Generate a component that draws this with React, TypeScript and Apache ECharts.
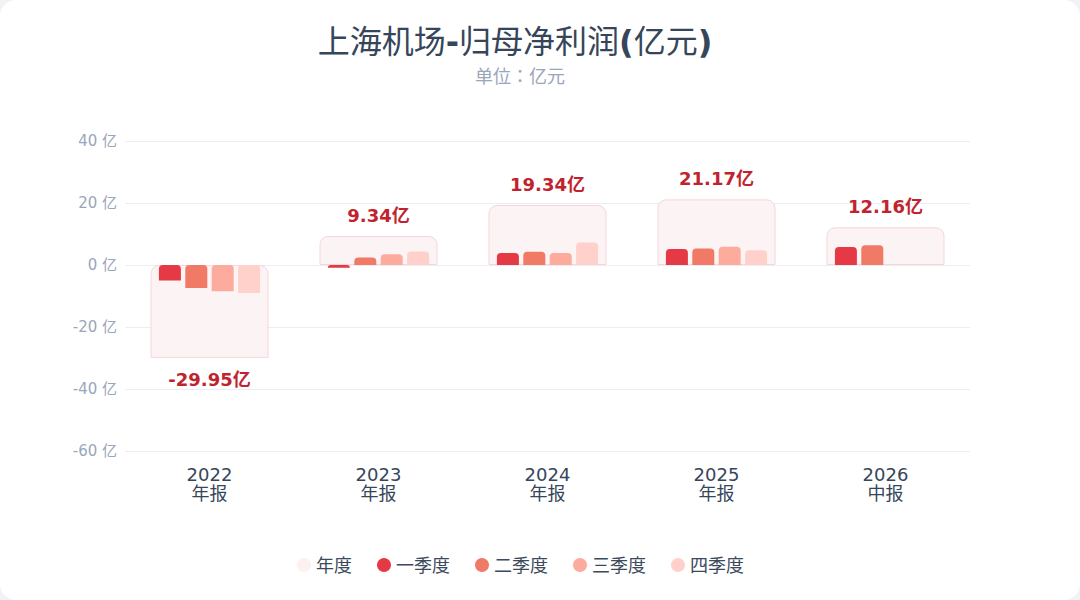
import React, { useEffect, useRef } from "react";
import * as echarts from "echarts";

const categories = ["2022\n年报", "2023\n年报", "2024\n年报", "2025\n年报", "2026\n中报"];
const annual = [-29.95, 9.34, 19.34, 21.17, 12.16];
const q1 = [-5.0, -0.9, 3.9, 5.2, 5.8];
const q2 = [-7.4, 2.4, 4.3, 5.3, 6.36];
const q3 = [-8.5, 3.5, 3.9, 5.9, null];
const q4 = [-9.05, 4.34, 7.24, 4.77, null];
const yTicks = [-60, -40, -20, 0, 20, 40];

const FONT = "'DejaVu Sans', 'Noto Sans CJK JP', sans-serif";

const COLORS = {
  annualFill: "#fcf3f4",
  annualBorder: "#f6d6db",
  q1: "#e63946",
  q2: "#f07a66",
  q3: "#fdab9c",
  q4: "#ffd1ca",
  label: "#c1232e",
};

export default function App() {
  const ref = useRef<HTMLDivElement>(null);
  useEffect(() => {
    if (!ref.current) return;
    const chart = echarts.init(ref.current, undefined, { renderer: "svg" });
    const quarter = (name: string, data: (number | null)[], color: string) => ({
      name,
      type: "bar",
      xAxisIndex: 1,
      data,
      barWidth: 22,
      barGap: "20%",
      itemStyle: { color, borderRadius: [4, 4, 0, 0] },
      z: 3,
    });
    const titleColor = "#36465a";
    chart.setOption({
      animation: false,
      textStyle: { fontFamily: FONT },
      title: [
        {
          text: "{c|上海机场}{a|-}{c|归母净利润}{a|(}{c|亿元}{a|)}",
          left: 510,
          textAlign: "center",
          top: 21,
          textStyle: {
            fontSize: 32,
            color: titleColor,
            fontFamily: FONT,
            rich: {
              c: { fontSize: 32, fontWeight: "normal", color: titleColor, fontFamily: FONT },
              a: { fontSize: 32, fontWeight: "bold", color: titleColor, fontFamily: FONT },
            },
          },
        },
        {
          text: "单位：亿元",
          left: 515,
          textAlign: "center",
          top: 62,
          textStyle: { fontSize: 18, fontWeight: "normal", color: "#9aa6ba", fontFamily: FONT },
        },
      ],
      legend: {
        bottom: 21,
        left: 292,
        icon: "circle",
        itemWidth: 14,
        itemHeight: 14,
        itemGap: 25,
        textStyle: { fontSize: 18, color: "#3d4a5c", fontFamily: FONT },
        data: [
          { name: "年度", itemStyle: { color: "#fcf0f1", borderWidth: 0 } },
          "一季度",
          "二季度",
          "三季度",
          "四季度",
        ],
      },
      grid: { left: 125, right: 110, top: 141, bottom: 149 },
      xAxis: [
        {
          type: "category",
          data: categories,
          position: "bottom",
          axisLine: { show: false, onZero: false },
          axisTick: { show: false },
          axisLabel: { fontSize: 18, lineHeight: 19, color: "#36465a", margin: 14, fontFamily: FONT },
        },
        {
          type: "category",
          data: categories,
          show: false,
        },
      ],
      yAxis: {
        type: "value",
        min: yTicks[0],
        max: yTicks[yTicks.length - 1],
        interval: 20,
        axisLine: { show: false },
        axisTick: { show: false },
        axisLabel: {
          fontSize: 15,
          color: "#9aa6ba",
          margin: 8,
          fontFamily: FONT,
          formatter: (v: number) => `${v} 亿`,
        },
        splitLine: { lineStyle: { color: "#eceef3", width: 1 } },
      },
      series: [
        {
          name: "年度",
          type: "bar",
          xAxisIndex: 0,
          barWidth: 118,
          z: 1,
          data: annual.map((v) => ({
            value: v,
            label: {
              show: true,
              position: v < 0 ? "bottom" : "top",
              distance: v < 0 ? 13 : 12,
              formatter: `${v}亿`,
              fontSize: 18,
              fontWeight: "bold",
              color: COLORS.label,
              fontFamily: FONT,
            },
          })),
          itemStyle: {
            color: COLORS.annualFill,
            borderColor: COLORS.annualBorder,
            borderWidth: 1,
            borderRadius: [8, 8, 0, 0],
          },
        },
        quarter("一季度", q1, COLORS.q1),
        quarter("二季度", q2, COLORS.q2),
        quarter("三季度", q3, COLORS.q3),
        quarter("四季度", q4, COLORS.q4),
      ],
    });
    return () => chart.dispose();
  }, []);
  return (
    <div
      style={{
        position: "fixed",
        left: 0,
        top: 0,
        width: 1080,
        height: 600,
        background: "#f1f2f5",
      }}
    >
      <div
        style={{
          width: 1080,
          height: 600,
          background: "#ffffff",
          borderRadius: 16,
          overflow: "hidden",
        }}
      >
        <div ref={ref} style={{ width: 1080, height: 600 }} />
      </div>
    </div>
  );
}
